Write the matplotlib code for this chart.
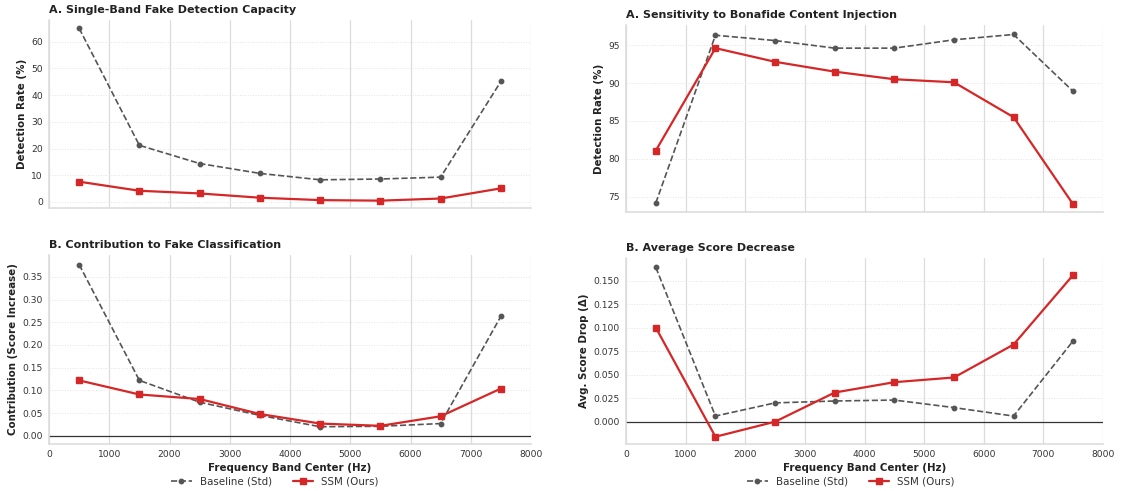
import numpy as np
import matplotlib
matplotlib.use("Agg")
import matplotlib.pyplot as plt
import seaborn as sns

sns.set_theme(style="whitegrid")
plt.rcParams['font.family'] = ['DejaVu Sans']

# Frequency band centers (Hz)
freqs = [500, 1500, 2500, 3500, 4500, 5500, 6500, 7500]

# Left column: fake detection
fake_det_base = [65.0, 21.2, 14.4, 10.7, 8.3, 8.6, 9.3, 45.1]
fake_det_ssm = [7.6, 4.2, 3.2, 1.6, 0.7, 0.5, 1.3, 5.1]
fake_contrib_base = [0.377, 0.122, 0.074, 0.045, 0.020, 0.021, 0.027, 0.263]
fake_contrib_ssm = [0.122, 0.091, 0.081, 0.048, 0.027, 0.022, 0.043, 0.104]

# Right column: bonafide injection
bona_det_base = [74.2, 96.3, 95.6, 94.6, 94.6, 95.7, 96.4, 88.9]
bona_det_ssm = [81.1, 94.6, 92.8, 91.5, 90.5, 90.1, 85.5, 74.0]
bona_drop_base = [0.164, 0.006, 0.020, 0.022, 0.023, 0.015, 0.006, 0.086]
bona_drop_ssm = [0.100, -0.016, 0.000, 0.031, 0.042, 0.047, 0.082, 0.156]

W, H = 1121, 491
fig = plt.figure(figsize=(W / 100, H / 100), dpi=100)

TICK_FS = 6.6
LABEL_FS = 7.4
TITLE_FS = 8.0


def add_ax(x0, y0, x1, y1):
    return fig.add_axes([x0 / W, 1 - y1 / H, (x1 - x0) / W, (y1 - y0) / H])


def style(ax, base, ssm, title, ylabel, ylim, yticks, show_x, zero=False):
    ax.plot(freqs, base, color="#555555", ls="--", lw=1.2, marker="o", ms=3.2,
            label="Baseline (Std)", zorder=3)
    ax.plot(freqs, ssm, color="#d62728", ls="-", lw=1.6, marker="s", ms=4.3,
            label="SSM (Ours)", zorder=4)
    if zero:
        ax.axhline(0, color="#333333", lw=0.9, zorder=2)
    ax.set_xlim(0, 8000)
    ax.set_xticks(range(0, 8001, 1000))
    ax.set_ylim(*ylim)
    ax.set_yticks(yticks)
    ax.grid(axis="x", color="#dcdcdc", lw=0.9, ls="-")
    ax.grid(axis="y", color="#e4e4e4", lw=0.7, ls=":")
    for s in ["top", "right"]:
        ax.spines[s].set_visible(False)
    for s in ["left", "bottom"]:
        ax.spines[s].set_color("#dddddd")
        ax.spines[s].set_linewidth(1.2)
    ax.tick_params(labelsize=TICK_FS, colors="#333333", length=0, pad=4.5)
    ax.set_title(title, fontsize=TITLE_FS, fontweight="bold", loc="left",
                 color="#222222", pad=4.8)
    ax.set_ylabel(ylabel, fontsize=LABEL_FS, fontweight="bold", color="#222222",
                  labelpad=3)
    if show_x:
        ax.set_xlabel("Frequency Band Center (Hz)", fontsize=LABEL_FS,
                      fontweight="bold", color="#222222", labelpad=2.5)
    else:
        ax.set_xticklabels([])


# Top-left
ax1 = add_ax(49, 20, 531, 208)
style(ax1, fake_det_base, fake_det_ssm, "A. Single-Band Fake Detection Capacity",
      "Detection Rate (%)", (-2.25, 68.1), [0, 10, 20, 30, 40, 50, 60], False)

# Bottom-left
ax2 = add_ax(49, 255, 531, 444)
yt2 = np.arange(0, 0.36, 0.05)
style(ax2, fake_contrib_base, fake_contrib_ssm, "B. Contribution to Fake Classification",
      "Contribution (Score Increase)", (-0.018, 0.398), yt2, True, zero=True)
ax2.set_yticklabels([f"{v:.2f}" for v in yt2])

# Top-right
ax3 = add_ax(626, 25, 1103, 212)
style(ax3, bona_det_base, bona_det_ssm, "A. Sensitivity to Bonafide Content Injection",
      "Detection Rate (%)", (73.0, 97.65), [75, 80, 85, 90, 95], False)

# Bottom-right
ax4 = add_ax(626, 258, 1103, 444)
yt4 = np.arange(0, 0.151, 0.025)
style(ax4, bona_drop_base, bona_drop_ssm, "B. Average Score Decrease",
      "Avg. Score Drop (Δ)", (-0.0237, 0.174), yt4, True, zero=True)
ax4.set_yticklabels([f"{v:.3f}" for v in yt4])

for ax, cx in ((ax2, 275), (ax4, 851)):
    h, l = ax.get_legend_handles_labels()
    fig.legend(h, l, loc="center", ncol=2, frameon=False, fontsize=LABEL_FS,
               bbox_to_anchor=(cx / W, 1 - 482 / H),
               handlelength=2.0, columnspacing=2.0, labelcolor="#333333")

fig.savefig("out.png", dpi=100)
